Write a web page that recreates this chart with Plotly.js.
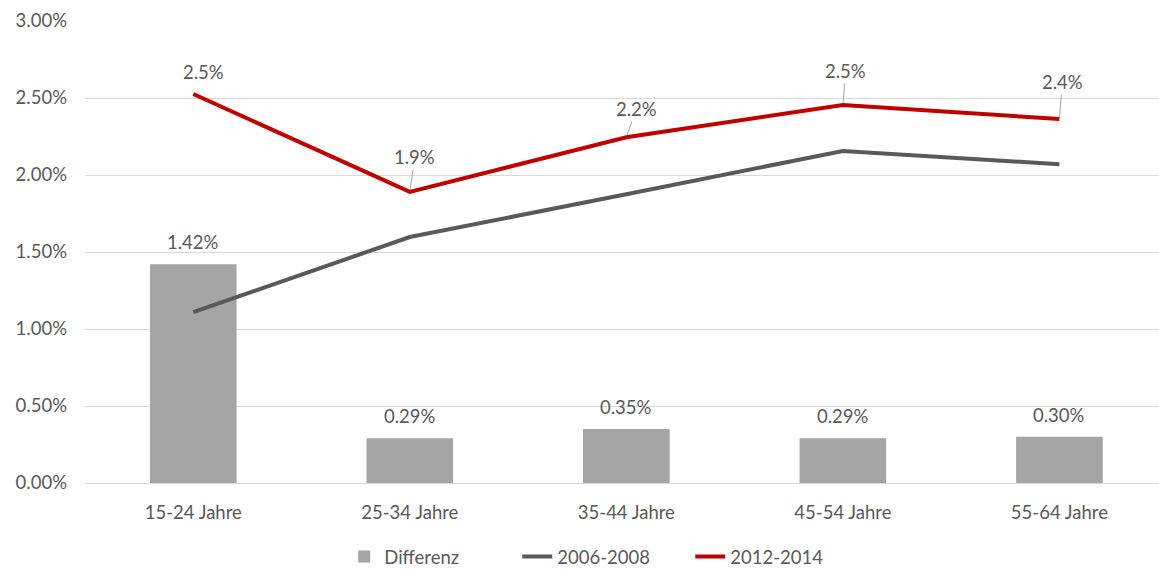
<!DOCTYPE html>
<html>
<head>
<meta charset="utf-8">
<script src="https://cdn.plot.ly/plotly-3.0.1.min.js"></script>
<style>html,body{margin:0;padding:0;background:#fff;}#chart{width:1159px;height:570px;}</style>
</head>
<body>
<div id="chart"></div>
<script>
const categories = ["15-24 Jahre", "25-34 Jahre", "35-44 Jahre", "45-54 Jahre", "55-64 Jahre"];
const differenz = [0.0142, 0.0029, 0.0035, 0.0029, 0.0030];
const series2006 = [0.0111, 0.01597, 0.01875, 0.02156, 0.0207];
const series2012 = [0.02526, 0.0189, 0.02245, 0.02455, 0.02364];
const yTicks = [0, 0.005, 0.01, 0.015, 0.02, 0.025, 0.03];

const FONT = "Lato, 'Noto Sans', sans-serif";
const TXT = "#595959";
const FS = 18.5;

const traces = [
  {type: "bar", name: "Differenz", x: categories, y: differenz, width: 0.4,
   marker: {color: "#A5A5A5"}, hoverinfo: "skip"},
  {type: "scatter", mode: "lines", name: "2006-2008", x: categories, y: series2006,
   line: {color: "#595959", width: 4}, hoverinfo: "skip"},
  {type: "scatter", mode: "lines", name: "2012-2014", x: categories, y: series2012,
   line: {color: "#C00000", width: 4}, hoverinfo: "skip"}
];

const annotations = [];
differenz.forEach((v, i) => {
  annotations.push({x: categories[i], y: v, xref: "x", yref: "y", text: (v * 100).toFixed(2) + "%",
    showarrow: false, yanchor: "bottom", yshift: 9, font: {family: FONT, size: FS, color: TXT}});
});
const lineLabelOffsets = [[10, -22], [5, -35], [10, -28], [3, -34], [3, -37]];
series2012.forEach((v, i) => {
  const off = lineLabelOffsets[i];
  if (i === 0) {
    annotations.push({x: categories[i], y: v, xref: "x", yref: "y", text: (v * 100).toFixed(1) + "%",
      showarrow: false, xshift: off[0], yshift: -off[1], font: {family: FONT, size: FS, color: TXT}});
  } else {
    annotations.push({x: categories[i], y: v, xref: "x", yref: "y", text: (v * 100).toFixed(1) + "%",
      showarrow: true, arrowhead: 0, arrowwidth: 1, arrowcolor: "#A6A6A6", standoff: 2,
      ax: off[0], ay: off[1], font: {family: FONT, size: FS, color: TXT}});
  }
});

const layout = {
  width: 1159, height: 570,
  margin: {l: 85, r: 0, t: 21, b: 87, autoexpand: false},
  paper_bgcolor: "#fff", plot_bgcolor: "#fff",
  font: {family: FONT, size: FS, color: TXT},
  showlegend: true,
  legend: {orientation: "h", x: 0.483, xanchor: "center", y: -0.16, yanchor: "middle",
    entrywidth: 128, entrywidthmode: "pixels",
    font: {family: FONT, size: FS, color: TXT}, traceorder: "normal"},
  xaxis: {type: "category", range: [-0.5, 4.46], showgrid: false, zeroline: false,
    showline: false, ticks: "", tickfont: {family: FONT, size: FS, color: TXT}, ticklabelstandoff: 16},
  yaxis: {range: [0, 0.03], tickvals: yTicks, tickformat: ".2%", showgrid: true, gridcolor: "#D9D9D9",
    gridwidth: 1, zeroline: true, zerolinecolor: "#D9D9D9", zerolinewidth: 1, showline: false,
    ticks: "", tickfont: {family: FONT, size: FS, color: TXT}, ticklabelstandoff: 17},
  bargap: 0.6,
  annotations: annotations
};

Plotly.newPlot("chart", traces, layout, {displayModeBar: false, staticPlot: true});
</script>
</body>
</html>
